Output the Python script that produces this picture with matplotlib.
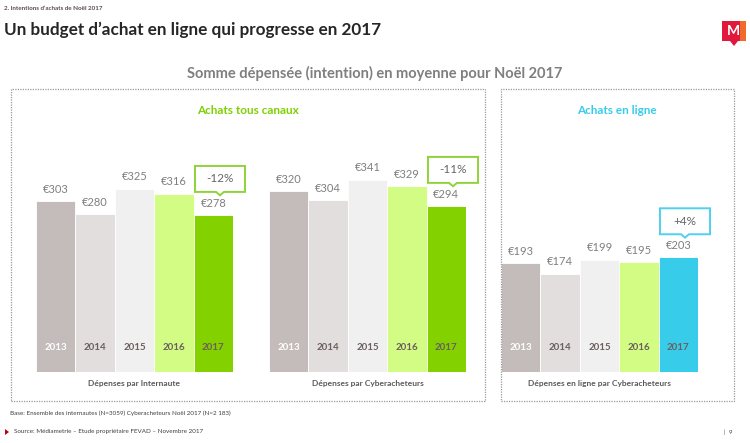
import matplotlib
matplotlib.use("Agg")
import matplotlib.pyplot as plt
from matplotlib.patches import Rectangle, Polygon

plt.rcParams['font.family'] = ['Lato', 'DejaVu Sans']

# ---------------- data ----------------
years = ['2013', '2014', '2015', '2016', '2017']
spend_internaute = [303, 280, 325, 316, 278]
spend_cyber = [320, 304, 341, 329, 294]
spend_online = [193, 174, 199, 195, 203]
changes = ['-12%', '-11%', '+4%']
group_labels = ['Dépenses par Internaute', 'Dépenses par Cyberacheteurs',
                'Dépenses en ligne par Cyberacheteurs']
panel_titles = ['Achats tous canaux', 'Achats en ligne']
chart_title = 'Somme dépensée (intention) en moyenne pour Noël 2017'
slide_title = 'Un budget d\u2019achat en ligne qui progresse en 2017'
section = '2. Intentions d\u2019achats de Noël 2017'
base_note = 'Base: Ensemble des internautes (N=3059) Cyberacheteurs Noël 2017 (N=2 183)'
source_note = 'Source: Médiametrie \u2013 Etude propriétaire FEVAD \u2013 Novembre 2017'

# ---------------- style ----------------
W, H = 750, 443
base_colors = ['#C4BBBB', '#E2DEDD', '#F0F0F0', '#D3FC84']
green = '#84D100'
cyan = '#38CCEB'
callout_edges = {green: '#8FD33A', cyan: '#4FD0EE'}
grey_txt = '#7F7F7F'
dark_txt = '#6B5E5E'

fig = plt.figure(figsize=(W / 100, H / 100), dpi=100)

def fx(px):
    return px / W

def fy(py):
    return 1 - py / H

PX_PER_EUR = 0.5645
BOTTOM_PX = 372
TOP_PX = 60

def make_axes(x0, x1):
    ax = fig.add_axes([fx(x0), fy(BOTTOM_PX), (x1 - x0) / W, (BOTTOM_PX - TOP_PX) / H])
    ax.set_xlim(-0.5, 4.5)
    ax.set_ylim(0, (BOTTOM_PX - TOP_PX) / PX_PER_EUR)
    ax.axis('off')
    ax.patch.set_alpha(0)
    return ax

def draw_group(ax, values, last_color, change, label):
    cols = base_colors + [last_color]
    ax.bar(range(len(values)), values, width=1.0, color=cols,
           edgecolor='white', linewidth=0.6)
    for i, (v, y) in enumerate(zip(values, years)):
        ax.text(i, v + 21, f'\u20ac{v}', ha='center', va='center',
                fontsize=8, color=grey_txt)
        ax.text(i, 44, y, ha='center', va='center', fontsize=7,
                fontweight='bold', color='white' if i == 0 else dark_txt)
    # callout
    v = values[-1]
    xc = len(values) - 1 + 0.17
    hw = 0.635
    yb = v + 41
    yt = yb + 46
    pts = [(xc - hw, yb), (xc - 0.1, yb), (xc, yb - 6), (xc + 0.1, yb),
           (xc + hw, yb), (xc + hw, yt), (xc - hw, yt)]
    ax.add_patch(Polygon(pts, closed=True, facecolor='white',
                         edgecolor=callout_edges[last_color], linewidth=1.4,
                         clip_on=False))
    ax.text(xc, (yb + yt) / 2, change, ha='center', va='center',
            fontsize=8.5, color='#666666')
    ax.text(2, -20, label, ha='center', va='center', fontsize=6,
            fontweight='bold', color='#595959', clip_on=False)

ax1 = make_axes(36, 233)
draw_group(ax1, spend_internaute, green, changes[0], group_labels[0])
ax2 = make_axes(269, 466)
draw_group(ax2, spend_cyber, green, changes[1], group_labels[1])
ax3 = make_axes(501, 698)
draw_group(ax3, spend_online, cyan, changes[2], group_labels[2])

# dashed panel boxes
for (x0, x1) in [(11, 485), (501, 734)]:
    fig.patches.append(Rectangle((fx(x0), fy(401)), (x1 - x0) / W, (401 - 89) / H,
                                 transform=fig.transFigure, fill=False,
                                 edgecolor='#9A9A9A', linewidth=0.9,
                                 linestyle=(0, (1, 1))))

# titles
fig.text(fx(4), fy(8), section, fontsize=4.5, color='#5A4A4A',
         fontweight='bold', va='center', ha='left')
fig.text(fx(4), fy(30), slide_title, fontsize=12.3, color='#262626',
         fontweight='bold', va='center', ha='left')
fig.text(fx(375), fy(73), chart_title, fontsize=10.5, color=grey_txt,
         fontweight='bold', va='center', ha='center')
fig.text(fx(248), fy(111), panel_titles[0], fontsize=8.5, color='#7FD000',
         fontweight='bold', va='center', ha='center')
fig.text(fx(617), fy(110), panel_titles[1], fontsize=8.5, color=cyan,
         fontweight='bold', va='center', ha='center')

# footer
fig.text(fx(10), fy(413), base_note, fontsize=4.5, color='#404040',
         va='center', ha='left')
fig.text(fx(14), fy(432), source_note, fontsize=4.5, color='#404040',
         va='center', ha='left')
fig.patches.append(Polygon([(fx(5), fy(429)), (fx(5), fy(435)), (fx(9), fy(432))],
                           closed=True, transform=fig.transFigure,
                           facecolor='#C00000', edgecolor='none'))
fig.text(fx(724), fy(432), '|  9', fontsize=4.5, color='#404040',
         va='center', ha='left')

# logo
logo = [(722, 21), (746, 21), (746, 41), (738, 41), (734, 46), (730, 41), (722, 41)]
fig.patches.append(Polygon([(fx(x), fy(y)) for x, y in logo], closed=True,
                           transform=fig.transFigure, facecolor='#E0183C',
                           edgecolor='none'))
fig.patches.append(Rectangle((fx(740), fy(41)), 6 / W, 20 / H,
                             transform=fig.transFigure, facecolor='#F26A2B',
                             edgecolor='none'))
fig.text(fx(733), fy(31), 'M', fontsize=10, color='white', fontweight='bold',
         va='center', ha='center')

fig.savefig('out.png', dpi=100, facecolor='white')
